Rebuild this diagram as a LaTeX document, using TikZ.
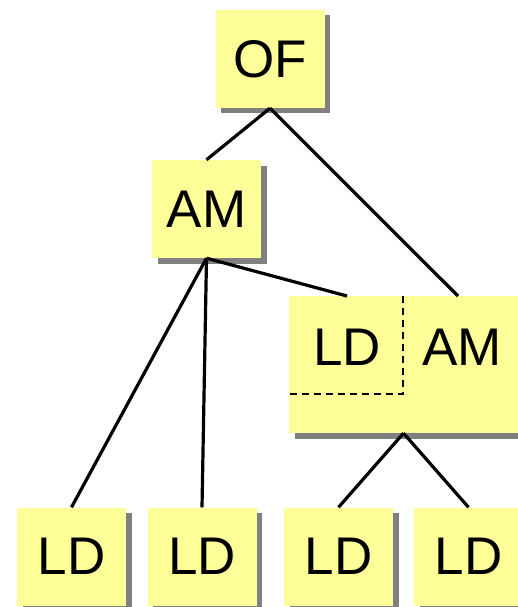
\documentclass[tikz,border=0pt]{standalone}
\usepackage{fontspec}
\setmainfont{Liberation Sans}
\usetikzlibrary{shadows}
\definecolor{boxyellow}{RGB}{255,255,153}
\definecolor{shadowgray}{RGB}{128,128,128}
\begin{document}
\begin{tikzpicture}[x=1pt,y=-1pt,
  box/.style={fill=boxyellow, inner sep=0pt, minimum width=109pt, minimum height=98pt,
    font=\fontsize{53}{60}\selectfont,
    drop shadow={shadow xshift=5.5pt, shadow yshift=-5.5pt, fill=shadowgray, opacity=1}},
  bigbox/.style={box, minimum width=229pt, minimum height=137pt},
  label/.style={inner sep=0pt, font=\fontsize{53}{60}\selectfont},
  link/.style={line width=3.2pt},
  divider/.style={line width=2.6pt, dash pattern=on 7pt off 5pt}]
\useasboundingbox (0,0) rectangle (518,607);
\node[box] (of) at (270,59) {OF};
\node[box] (am) at (206.5,209) {AM};
\node[bigbox] (comb) at (403.5,364.5) {};
\node[label] (ldpart) at (347,347) {LD};
\node[label] (ampart) at (462,347) {AM};
\node[box] (ld1) at (71.5,556.5) {LD};
\node[box] (ld2) at (202,556.5) {LD};
\node[box] (ld3) at (338.5,556.5) {LD};
\node[box] (ld4) at (468.5,556.5) {LD};
\coordinate (cl) at (347,296);
\coordinate (cr) at (458,296);
\coordinate (dtop) at (403,296);
\coordinate (dcorner) at (403,394);
\coordinate (dleft) at (289,394);
\draw[divider] (dtop) -- (dcorner) -- (dleft);
\draw[link] (of.south) -- (am.north);
\draw[link] (of.south) -- (cr);
\draw[link] (am.south) -- (cl);
\draw[link] (am.south) -- (ld1.north);
\draw[link] (am.south) -- (ld2.north);
\draw[link] (comb.south) -- (ld3.north);
\draw[link] (comb.south) -- (ld4.north);
\end{tikzpicture}
\end{document}
